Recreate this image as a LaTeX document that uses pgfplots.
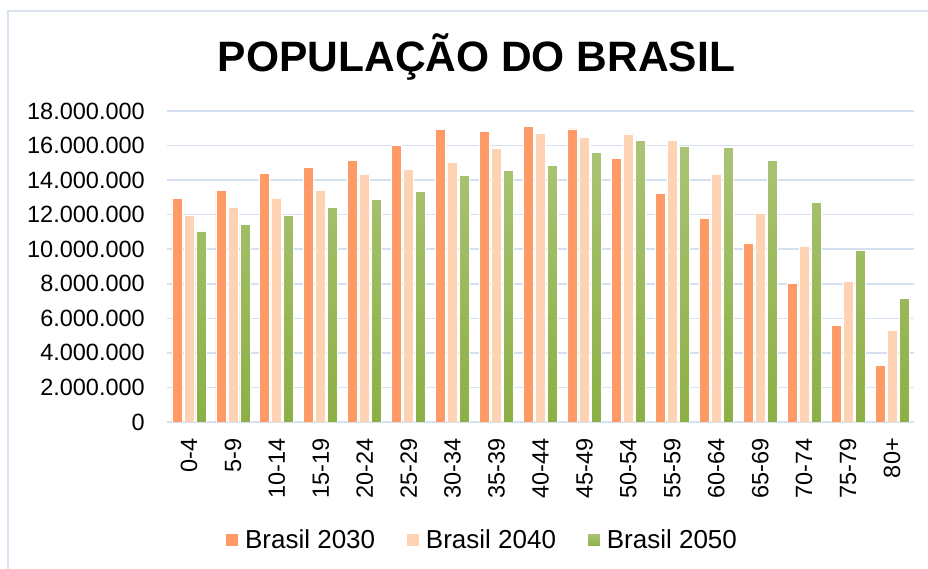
\documentclass[border=0pt]{standalone}
\usepackage{fontspec}
\setmainfont{Liberation Sans}
\usepackage{pgfplots}
\pgfplotsset{compat=1.18}
\definecolor{frameblue}{HTML}{D9E3F0}
\definecolor{gridblue}{HTML}{D5E1F1}
\definecolor{c2030}{HTML}{FF9966}
\definecolor{c2040}{HTML}{FDD3B3}
\definecolor{g50top}{HTML}{AAC476}
\definecolor{g50bot}{HTML}{8CB045}

\begin{document}
\begin{tikzpicture}
  \useasboundingbox (0,0) rectangle (928pt,569pt);
  \draw[frameblue,line width=1.5pt] (8pt,-5pt) -- (8pt,558pt) -- (935pt,558pt);
  \node[anchor=base,font=\fontsize{42.5}{50}\selectfont\bfseries] at (476.5pt,497pt) {POPULAÇÃO DO BRASIL};
  \begin{axis}[
    at={(167pt,147pt)}, anchor=south west,
    scale only axis, width=747pt, height=311pt,
    ybar=2pt, bar width=10pt,
    xmin=-0.5, xmax=16.5, ymin=0, ymax=18000000,
    xtick=data,
    xticklabels={0-4,5-9,10-14,15-19,20-24,25-29,30-34,35-39,40-44,45-49,50-54,55-59,60-64,65-69,70-74,75-79,80+},
    ytick={0,2000000,...,18000000},
    scaled y ticks=false,
    /pgf/number format/.cd, fixed, precision=0, 1000 sep={.}, assume math mode=true,
    /pgfplots/.cd,
    axis line style={draw=none},
    major tick length=0pt,
    ymajorgrids, grid style={gridblue,line width=1.5pt},
    tick label style={font=\fontsize{23.5}{28}\selectfont, inner sep=0pt},
    yticklabel style={anchor=east, xshift=-22pt},
    xticklabel style={rotate=90, anchor=east, xshift=-16pt},
    legend columns=3,
    legend style={draw=none, fill=none, at={(0.4205,-0.3794)}, anchor=center,
      font=\fontsize{26}{30}\selectfont, inner sep=0pt,
      nodes={inner sep=0pt},
      /tikz/every odd column/.append style={column sep=6pt},
      /tikz/every even column/.append style={column sep=31pt}},
    legend image code/.code={\path[#1] (0pt,-6.5pt) rectangle (13pt,6.5pt);},
  ]
    \addplot[fill=c2030, draw=white, line width=0.8pt] coordinates {
      (0,12930000)(1,13400000)(2,14380000)(3,14730000)(4,15160000)(5,15990000)
      (6,16920000)(7,16820000)(8,17130000)(9,16960000)(10,15240000)(11,13240000)
      (12,11770000)(13,10360000)(14,8020000)(15,5590000)(16,3270000)};
    \addplot[fill=c2040, draw=white, line width=0.8pt] coordinates {
      (0,11970000)(1,12430000)(2,12920000)(3,13380000)(4,14330000)(5,14630000)
      (6,15020000)(7,15820000)(8,16690000)(9,16490000)(10,16670000)(11,16300000)
      (12,14330000)(13,12100000)(14,10150000)(15,8160000)(16,5300000)};
    \addplot[top color=g50top, bottom color=g50bot, draw=white, line width=0.8pt] coordinates {
      (0,11060000)(1,11430000)(2,11950000)(3,12410000)(4,12880000)(5,13340000)
      (6,14270000)(7,14560000)(8,14850000)(9,15600000)(10,16300000)(11,15950000)
      (12,15890000)(13,15140000)(14,12700000)(15,9920000)(16,7130000)};
    \legend{Brasil 2030,Brasil 2040,Brasil 2050}
  \end{axis}
\end{tikzpicture}
\end{document}
